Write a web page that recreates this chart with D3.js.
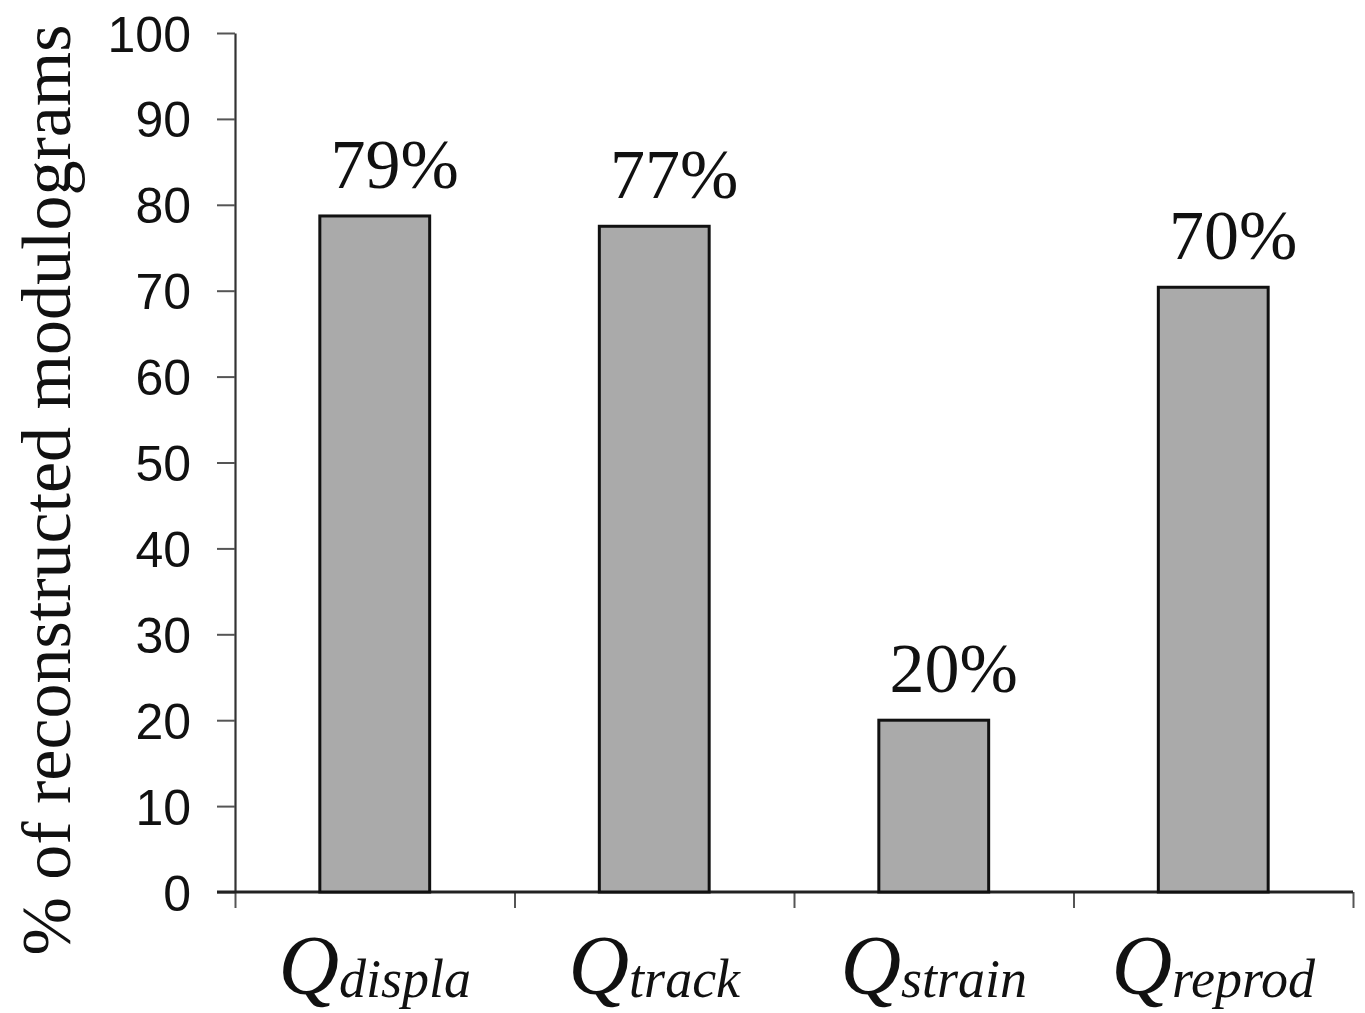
<!DOCTYPE html>
<html>
<head>
<meta charset="utf-8">
<script src="https://cdn.jsdelivr.net/npm/d3@7"></script>
<style>
  html, body { margin: 0; padding: 0; background: #fff; }
  svg { display: block; }
</style>
</head>
<body>
<svg id="chart" width="1365" height="1013"></svg>
<script>
// ---- data ----
const categories = ["displa", "track", "strain", "reprod"];
const values = [78.7, 77.5, 20, 70.4];
const valueLabels = ["79%", "77%", "20%", "70%"];
const yTicks = [0, 10, 20, 30, 40, 50, 60, 70, 80, 90, 100];
const yTitle = "% of reconstructed modulograms";

(function () {
// ---- layout ----
const svg = d3.select("#chart");
const pLeft = 235, pRight = 1353, pTop = 33, pBottom = 892;

const x = d3.scaleBand().domain(categories).range([pLeft, pRight])
  .paddingInner(0.607).paddingOuter(0.3035);
const xEdges = d3.scaleLinear().domain([0, categories.length]).range([pLeft, pRight]);
const y = d3.scaleLinear().domain([0, 100]).range([pBottom, pTop]);

// y axis
const yAxis = svg.append("g").attr("transform", `translate(${pLeft},0)`)
  .call(d3.axisLeft(y).tickValues(yTicks).tickSize(18).tickSizeOuter(0).tickPadding(26));
yAxis.select(".domain").attr("stroke", "#333").attr("stroke-width", 2.2);
yAxis.selectAll(".tick line").attr("stroke", "#555").attr("stroke-width", 2);
yAxis.selectAll(".tick text")
  .attr("font-family", "'Liberation Sans', Arial, sans-serif")
  .attr("font-size", 50).attr("fill", "#111").attr("dy", "0.36em");

// x axis (ticks at band edges)
const xAxis = svg.append("g").attr("transform", `translate(0,${pBottom})`)
  .call(d3.axisBottom(xEdges).tickValues(d3.range(categories.length + 1))
    .tickSize(16).tickSizeOuter(0).tickFormat(""));
xAxis.select(".domain").remove();
xAxis.selectAll(".tick line").attr("stroke", "#555").attr("stroke-width", 2);
svg.append("line").attr("x1", pLeft - 18).attr("x2", pRight)
  .attr("y1", y(0)).attr("y2", y(0)).attr("stroke", "#222").attr("stroke-width", 3);

// bars
svg.append("g").selectAll("rect").data(values).join("rect")
  .attr("x", (d, i) => x(categories[i]))
  .attr("y", d => y(d))
  .attr("width", x.bandwidth())
  .attr("height", d => y(0) - y(d))
  .attr("fill", "#aaaaaa")
  .attr("stroke", "#111")
  .attr("stroke-width", 3);

// value labels
svg.append("g").selectAll("text").data(values).join("text")
  .attr("x", (d, i) => x(categories[i]) + x.bandwidth() / 2 + 20)
  .attr("y", d => y(d) - 28)
  .attr("text-anchor", "middle")
  .attr("font-family", "'Liberation Serif', 'Times New Roman', serif")
  .attr("font-size", 70).attr("fill", "#111")
  .text((d, i) => valueLabels[i]);

// category labels: Q with italic subscript
const cl = svg.append("g").selectAll("text").data(categories).join("text")
  .attr("x", d => x(d) + x.bandwidth() / 2)
  .attr("y", 994)
  .attr("text-anchor", "middle")
  .attr("font-family", "'Liberation Serif', 'Times New Roman', serif")
  .attr("font-style", "italic").attr("fill", "#111");
cl.append("tspan").attr("font-size", 84).text("Q");
cl.append("tspan").attr("font-size", 54).attr("dy", 3).text(d => d);

// y title
svg.append("text")
  .attr("transform", "translate(70,490) rotate(-90)")
  .attr("text-anchor", "middle")
  .attr("font-family", "'Liberation Serif', 'Times New Roman', serif")
  .attr("font-size", 70).attr("fill", "#111")
  .text(yTitle);
})();
</script>
</body>
</html>
